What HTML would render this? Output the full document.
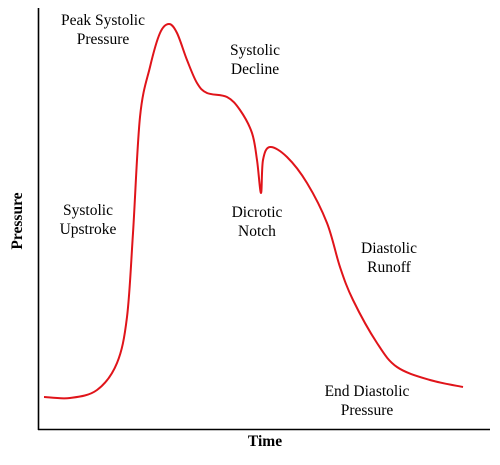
<!DOCTYPE html>
<html><head><meta charset="utf-8"><style>
html,body{margin:0;padding:0;background:#fff;}
svg text{font-family:"Liberation Serif",serif;font-size:15.5px;fill:#000;}
</style></head><body>
<svg id="chart" width="500" height="460" viewBox="0 0 500 460" xmlns="http://www.w3.org/2000/svg">
<line x1="38.5" y1="8" x2="38.5" y2="430" stroke="#000" stroke-width="1.6"/>
<line x1="38" y1="429.5" x2="490" y2="429.5" stroke="#000" stroke-width="1.6"/>
<text x="265" y="446" text-anchor="middle" font-weight="bold">Time</text>
<text x="0" y="0" text-anchor="middle" font-weight="bold" transform="translate(22,221) rotate(-90)">Pressure</text>
<g text-anchor="middle">
<text x="103" y="25">Peak Systolic<tspan x="103" dy="19">Pressure</tspan></text>
<text x="255" y="55">Systolic<tspan x="255" dy="19">Decline</tspan></text>
<text x="88" y="215">Systolic<tspan x="88" dy="19">Upstroke</tspan></text>
<text x="257" y="217">Dicrotic<tspan x="257" dy="19">Notch</tspan></text>
<text x="389" y="253">Diastolic<tspan x="389" dy="19">Runoff</tspan></text>
<text x="367" y="396">End Diastolic<tspan x="367" dy="19">Pressure</tspan></text>
</g>
</svg>
<script>
const timeValues=[6,32,59,79,89,95,102,112,122,131,139,149,159,169,189,202,214,219,223,225,232,249,269,289,302,315,339,359,392,425];
const pressureValues=[32,31,39,66,112,196,312,362,396,405,396,369,346,336,332,319,296,269,236,269,282,272,246,206,162,129,86,62,49,42];
const X0=38,Y0=429;
function xScale(t){return X0+t;}
function yScale(p){return Y0-p;}
const pts=timeValues.map((t,i)=>[xScale(t),yScale(pressureValues[i])]);
let d='M'+pts[0][0]+','+pts[0][1];
for(let i=0;i<pts.length-1;i++){
  const p0=pts[Math.max(0,i-1)],p1=pts[i],p2=pts[i+1],p3=pts[Math.min(pts.length-1,i+2)];
  const k=6;
  d+=' C'+(p1[0]+(p2[0]-p0[0])/k)+','+(p1[1]+(p2[1]-p0[1])/k)+' '+(p2[0]-(p3[0]-p1[0])/k)+','+(p2[1]-(p3[1]-p1[1])/k)+' '+p2[0]+','+p2[1];
}
const path=document.createElementNS('http://www.w3.org/2000/svg','path');
path.setAttribute('d',d);
path.setAttribute('fill','none');
path.setAttribute('stroke','#e0141a');
path.setAttribute('stroke-width','2');


document.getElementById('chart').appendChild(path);
</script>
</body></html>
